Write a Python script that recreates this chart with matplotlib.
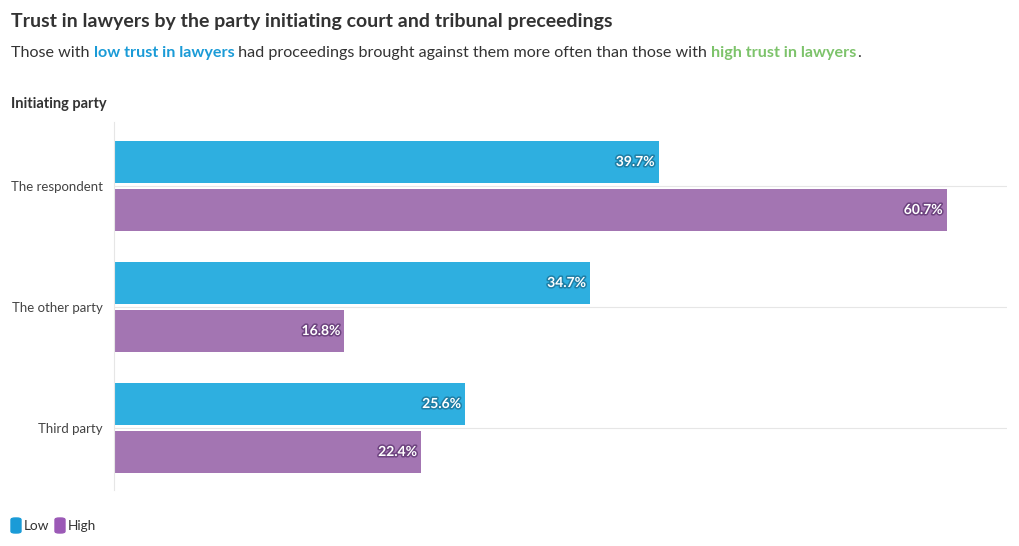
import numpy as np
import matplotlib.pyplot as plt
import matplotlib.patheffects as pe
from matplotlib.patches import FancyBboxPatch

plt.rcParams['font.family'] = ['Lato', 'DejaVu Sans']

# data
categories = ["The respondent", "The other party", "Third party"]
low_trust  = [39.7, 34.7, 25.6]
high_trust = [60.7, 16.8, 22.4]

BLUE   = "#2EAFE0"
PURPLE = "#A375B2"
DARK   = "#333333"

fig = plt.figure(figsize=(10.2, 5.46), dpi=100)
ax = fig.add_axes([114/1020, 1 - 490/546, (1007 - 114)/1020, (490 - 122)/546])

y = np.arange(len(categories))
h = 42/121
off = 24/121

bars_lo = ax.barh(y - off, low_trust, height=h, color=BLUE)
bars_hi = ax.barh(y + off, high_trust, height=h, color=PURPLE)

def label(bars, vals, edge):
    for b, v in zip(bars, vals):
        ax.annotate(f"{v:.1f}%", xy=(b.get_width(), b.get_y() + b.get_height()/2),
                    xytext=(-3, 0), textcoords="offset points",
                    ha="right", va="center", color="white", fontsize=10,
                    fontweight="bold",
                    path_effects=[pe.withStroke(linewidth=2.2, foreground=edge)])

label(bars_lo, low_trust, "#1f7fa6")
label(bars_hi, high_trust, "#6e4480")

ax.set_xlim(0, (1007 - 114)/13.72)
ax.set_ylim(2 + 62/121, -64/121)
ax.set_yticks(y)
ax.set_yticklabels(categories, fontsize=9.5, color="#444444")
ax.tick_params(axis="y", length=0, pad=8)
ax.set_xticks([])
for c in y:
    ax.axhline(c, color="#e6e6e6", lw=0.8, zorder=0)
for s in ["top", "right", "bottom"]:
    ax.spines[s].set_visible(False)
ax.spines["left"].set_color("#e6e6e6")
ax.spines["left"].set_linewidth(0.8)

# titles
fig.text(11/1020, 1 - 22/546, "Trust in lawyers by the party initiating court and tribunal preceedings",
         fontsize=14, fontweight="bold", color=DARK, va="center")

parts = [("Those with ", DARK, "normal"),
         ("low trust in lawyers", "#1A9BD7", "bold"),
         (" had proceedings brought against them more often than those with ", DARK, "normal"),
         ("high trust in lawyers", "#7DC36B", "bold"),
         (".", DARK, "normal")]
prev = None
for txt, col, wt in parts:
    if prev is None:
        prev = fig.text(11/1020, 1 - 60/546, txt, fontsize=11.6, color=col,
                        fontweight=wt, va="bottom")
    else:
        prev = ax.annotate(txt, xy=(1, 0), xycoords=prev, fontsize=11.6,
                           color=col, fontweight=wt, va="bottom", ha="left",
                           annotation_clip=False)

fig.text(11/1020, 1 - 104/546, "Initiating party", fontsize=10.5,
         fontweight="bold", color=DARK, va="center")

# legend
for x0, col, name in [(11, "#1A9BD7", "Low"), (55, "#9B59B6", "High")]:
    fig.patches.append(FancyBboxPatch((x0/1020, 1 - 533/546), 10/1020, 15/546,
                                      boxstyle="round,pad=0,rounding_size=0.004",
                                      transform=fig.transFigure, color=col,
                                      mutation_aspect=546/1020*1.5))
    fig.text((x0 + 13)/1020, 1 - 526/546, name, fontsize=9.8, color=DARK, va="center")

plt.savefig("out.png", dpi=100)
